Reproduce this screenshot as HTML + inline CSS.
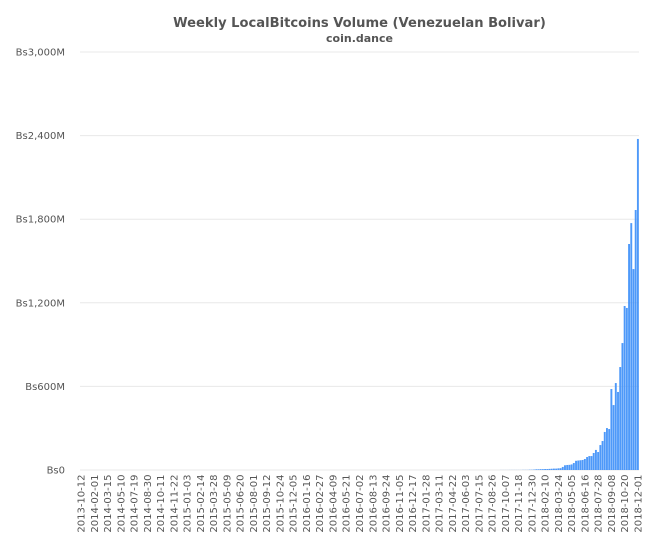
<!DOCTYPE html>
<html lang="en">
<head>
<meta charset="utf-8">
<title>Weekly LocalBitcoins Volume (Venezuelan Bolivar)</title>
<style>
  html, body { margin: 0; padding: 0; background: #fff; }
  svg { display: block; font-family: Verdana, "DejaVu Sans", sans-serif; }
</style>
</head>
<body>
<svg id="chart" xmlns="http://www.w3.org/2000/svg" width="654" height="550" viewBox="0 0 654 550">
  <rect x="0" y="0" width="654" height="550" fill="#ffffff"/>
  <text x="359.5" y="27" text-anchor="middle" font-size="13.1" font-weight="bold" fill="#555555">Weekly LocalBitcoins Volume (Venezuelan Bolivar)</text>
  <text x="359.5" y="42" text-anchor="middle" font-size="11" font-weight="bold" fill="#555555">coin.dance</text>
  <g id="grid"></g>
  <g id="bars"></g>
  <g id="y-labels"></g>
  <g id="x-labels"></g>
</svg>
<script>
const xTickLabels = ["2013-10-12","2014-02-01","2014-03-15","2014-05-10","2014-07-19","2014-08-30","2014-10-11","2014-11-22","2015-01-03","2015-02-14","2015-03-28","2015-05-09","2015-06-20","2015-08-01","2015-09-12","2015-10-24","2015-12-05","2016-01-16","2016-02-27","2016-04-09","2016-05-21","2016-07-02","2016-08-13","2016-09-24","2016-11-05","2016-12-17","2017-01-28","2017-03-11","2017-04-22","2017-06-03","2017-07-15","2017-08-26","2017-10-07","2017-11-18","2017-12-30","2018-02-10","2018-03-24","2018-05-05","2018-06-16","2018-07-28","2018-09-08","2018-10-20","2018-12-01"];
const yTickValues = [0, 600, 1200, 1800, 2400, 3000];
const yTickLabels = ["Bs0", "Bs600M", "Bs1,200M", "Bs1,800M", "Bs2,400M", "Bs3,000M"];
const weeklyVolume = [
  0,0,0,0,0,0,0,0,0,0,
  0,0,0,0,0,0,0,0,0,0,
  0,0,0,0,0,0,0,0,0,0,
  0,0,0,0,0,0,0,0,0,0,
  0,0,0,0,0,0,0,0,0,0,
  0,0,0,0,0,0,0,0,0,0,
  0,0,0,0,0,0,0,0,0,0,
  0,0,0,0,0,0,0,0,0,0,
  0,0,0,0,0,0,0,0,0,0,
  0,0,0,0,0,0,0,0,0,0,
  0,0,0,0,0,0,0,0,0,0,
  0,0,0,0,0,0,0,0,0,0,
  0,0,0,0,0,0,0,0,0,0,
  0,0,0,0,0,0,0,0,0,0,
  0,0,0,0,0,0,0,0,0,0,
  0,0,0,0,0,0,0,0,0,0,
  0,0,0,0,0,0,0,0,0,0,
  0,0,0,0,0,0,0,0,0,0,
  0,0,0,0,0,0,0,0,0,0,
  0.3,0.3,0.3,0.3,0.5,0.5,0.5,0.5,0.5,0.5,
  1,1,1,2,2,3,5,5,6,6,
  7,7,8,9,10,10,12,13,22,34,
  36,37,40,50,66,68,70,72,79,93,
  100,100,122,144,129,179,208,273,301,294,
  581,466,624,560,739,911,1177,1163,1622,1772,
  1442,1866,2376
];

const NS = "http://www.w3.org/2000/svg";
const plotLeft = 80, plotRight = 639, plotTop = 52, plotBottom = 470;
const yMax = 3000, labelEvery = 6;
const band = (plotRight - plotLeft) / weeklyVolume.length;

function yScale(v) { return plotBottom - (v / yMax) * (plotBottom - plotTop); }
function xScale(i) { return plotLeft + band * (i + 0.5); }

const gridGroup = document.getElementById("grid");
const yLabelGroup = document.getElementById("y-labels");
const xLabelGroup = document.getElementById("x-labels");
const barGroup = document.getElementById("bars");

yTickValues.forEach(function (v, i) {
  const line = document.createElementNS(NS, "line");
  
  
  line.setAttribute("x1", plotLeft);
  line.setAttribute("x2", plotRight);
  line.setAttribute("y1", yScale(v));
  line.setAttribute("y2", yScale(v));
  line.setAttribute("stroke", "#e8e8e8");
  line.setAttribute("stroke-width", "1");
  gridGroup.appendChild(line);

  const label = document.createElementNS(NS, "text");
  
  
  label.setAttribute("x", 65);
  label.setAttribute("y", yScale(v) + 3.5);
  label.setAttribute("text-anchor", "end");
  label.setAttribute("font-size", "10");
  label.setAttribute("fill", "#555555");
  label.textContent = yTickLabels[i];
  yLabelGroup.appendChild(label);
});

weeklyVolume.forEach(function (v, i) {
  const top = yScale(v);
  const bar = document.createElementNS(NS, "rect");
  
  
  bar.setAttribute("x", xScale(i) - band * 0.43);
  bar.setAttribute("y", top);
  bar.setAttribute("width", band * 0.86);
  bar.setAttribute("height", plotBottom - top);
  bar.setAttribute("fill", "#3f90f8");
  bar.setAttribute("fill-opacity", "0.92");
  barGroup.appendChild(bar);
});

xTickLabels.forEach(function (t, i) {
  const x = xScale(i * labelEvery) + 3.5;
  const label = document.createElementNS(NS, "text");
  
  
  label.setAttribute("transform", "translate(" + x + ",474.5) rotate(-90)");
  label.setAttribute("text-anchor", "end");
  label.setAttribute("font-size", "10");
  label.setAttribute("fill", "#555555");
  label.textContent = t;
  xLabelGroup.appendChild(label);
});
</script>
</body>
</html>
